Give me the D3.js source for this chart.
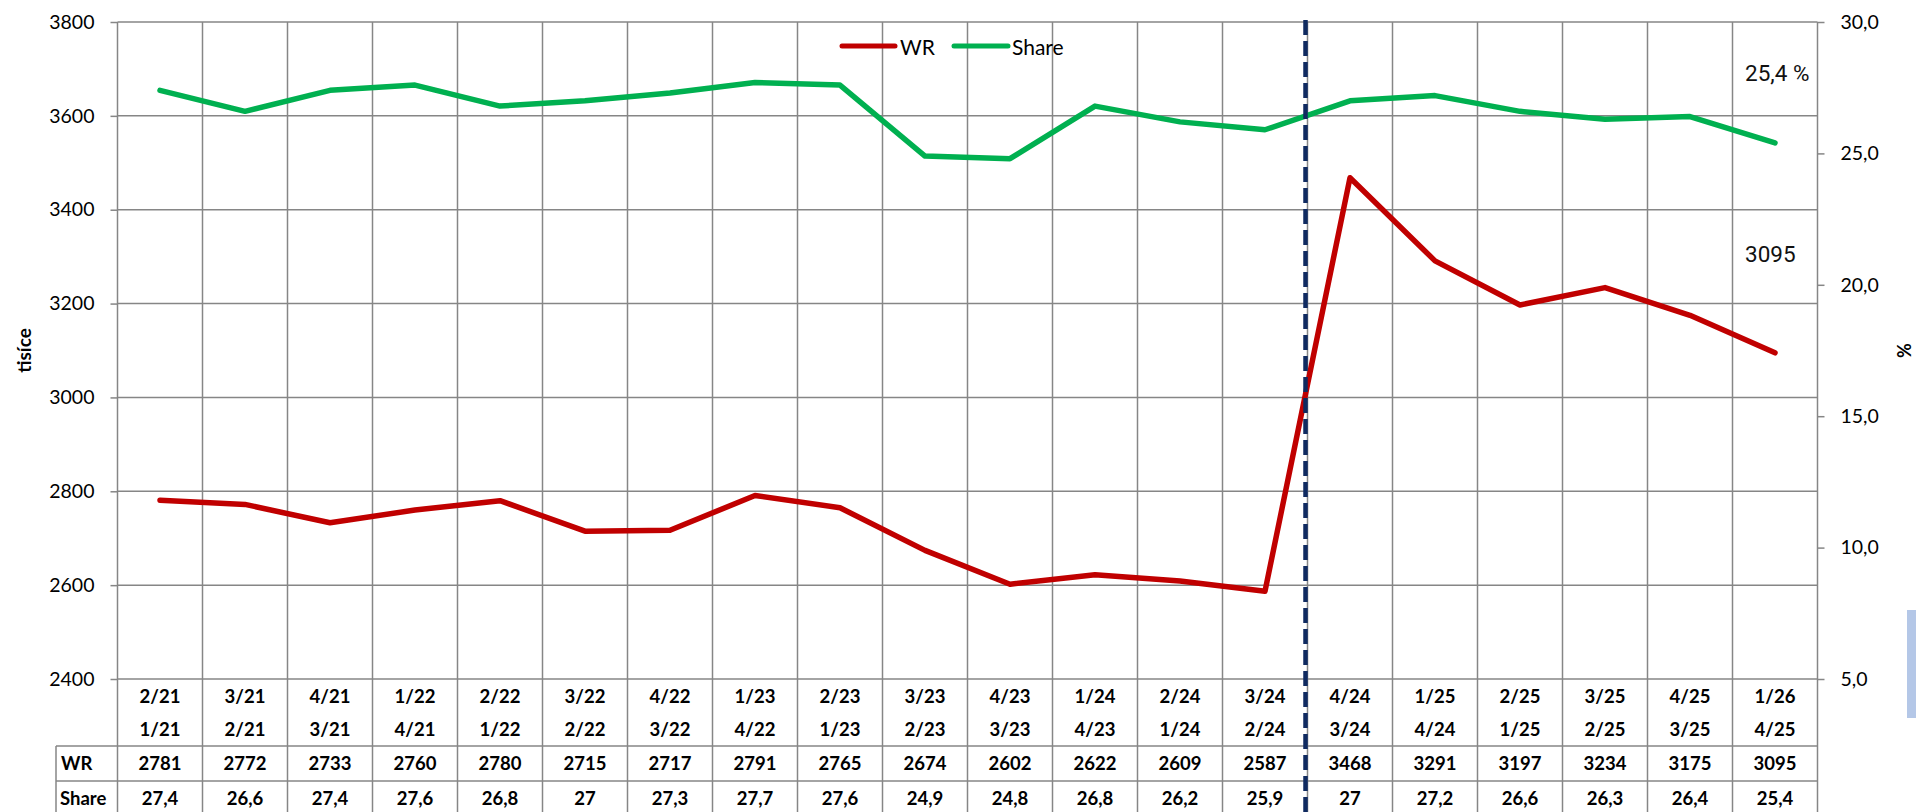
<!DOCTYPE html>
<html>
<head>
<meta charset="utf-8">
<script src="https://cdn.jsdelivr.net/npm/d3@7"></script>
<style>
  html, body { margin: 0; padding: 0; background: #fff; }
  svg { display: block; font-family: Lato, "Open Sans", sans-serif; }
</style>
</head>
<body>
<svg id="chart" width="1916" height="812"></svg>
<script>
// ---- DATA ----
const periodTop    = ["2/21","3/21","4/21","1/22","2/22","3/22","4/22","1/23","2/23","3/23","4/23","1/24","2/24","3/24","4/24","1/25","2/25","3/25","4/25","1/26"];
const periodBottom = ["1/21","2/21","3/21","4/21","1/22","2/22","3/22","4/22","1/23","2/23","3/23","4/23","1/24","2/24","3/24","4/24","1/25","2/25","3/25","4/25"];
const wrValues     = [2781,2772,2733,2760,2780,2715,2717,2791,2765,2674,2602,2622,2609,2587,3468,3291,3197,3234,3175,3095];
const shareValues  = [27.4,26.6,27.4,27.6,26.8,27,27.3,27.7,27.6,24.9,24.8,26.8,26.2,25.9,27,27.2,26.6,26.3,26.4,25.4];
const leftTicks    = [2400,2600,2800,3000,3200,3400,3600,3800];
const rightTicks   = [5,10,15,20,25,30];
const seriesNames  = ["WR","Share"];
const breakIndex   = 14; // dashed separator before "4/24"
const lastShareLabel = "25,4 %";
const lastWrLabel    = "3095";

// ---- LAYOUT ----
const svg = d3.select("#chart");
const L = 117.5, R = 1817.5, T = 22, B = 679;
const gridColor = "#868686";
const red = "#c00000", green = "#00b050";

const x = d3.scaleBand().domain(periodTop).range([L, R]).padding(0);
const cx = d => x(d) + x.bandwidth() / 2;
const yL = d3.scaleLinear().domain([2400, 3800]).range([B, T]);
const yR = d3.scaleLinear().domain([5, 30]).range([B, T]);
const fmtComma = d => d3.format(".1f")(d).replace(".", ",");

// Table row geometry
const rowTop1Y = 696, rowTop2Y = 729, rowWrY = 763, rowShareY = 798;
const tableLine1 = 746, tableLine2 = 781, tableLeft = 56, bottom = 812;

// ---- GRIDLINES ----
const g = svg.append("g");
g.selectAll("line.hg").data(leftTicks).enter().append("line")
  .attr("x1", L).attr("x2", R)
  .attr("y1", d => yL(d)).attr("y2", d => yL(d))
  .attr("stroke", gridColor).attr("stroke-width", 1.5);
const boundaries = periodTop.map(d => x(d)).concat([R]);
g.selectAll("line.vg").data(boundaries).enter().append("line")
  .attr("x1", d => d).attr("x2", d => d)
  .attr("y1", T).attr("y2", bottom)
  .attr("stroke", gridColor).attr("stroke-width", 1.5);

[tableLine1, tableLine2].forEach(yy => {
  g.append("line").attr("x1", tableLeft).attr("x2", R).attr("y1", yy).attr("y2", yy)
    .attr("stroke", gridColor).attr("stroke-width", 1.5);
});
g.append("line").attr("x1", tableLeft).attr("x2", tableLeft).attr("y1", tableLine1).attr("y2", bottom)
  .attr("stroke", gridColor).attr("stroke-width", 1.5);

// ---- AXES ----
const leftAxis = d3.axisLeft(yL).tickValues(leftTicks).tickSize(7).tickPadding(16).tickFormat(d3.format("d"));
const gl = svg.append("g").attr("transform", `translate(${L},0)`).call(leftAxis);
gl.select(".domain").remove();
gl.selectAll(".tick line").attr("stroke", gridColor).attr("stroke-width", 1.5);
gl.selectAll(".tick text").attr("font-family", "Lato").attr("font-size", 19.5).attr("fill", "#000");

const rightAxis = d3.axisRight(yR).tickValues(rightTicks).tickSize(7).tickPadding(16).tickFormat(fmtComma);
const gr = svg.append("g").attr("transform", `translate(${R},0)`).call(rightAxis);
gr.select(".domain").remove();
gr.selectAll(".tick line").attr("stroke", gridColor).attr("stroke-width", 1.5);
gr.selectAll(".tick text").attr("font-family", "Lato").attr("font-size", 19.5).attr("fill", "#000");

svg.append("text").attr("transform", `translate(31,${(T+B)/2}) rotate(-90)`)
  .attr("text-anchor", "middle").attr("font-weight", "bold").attr("font-size", 19).text("tisíce");
svg.append("text").attr("transform", `translate(1911,${(T+B)/2}) rotate(-90)`)
  .attr("text-anchor", "middle").attr("font-weight", "bold").attr("font-size", 18).text("%");

// ---- TABLE TEXT ----
const tbl = svg.append("g").attr("font-weight", "bold").attr("font-size", 18.5).attr("text-anchor", "middle");
const rows = [
  {vals: periodTop, y: rowTop1Y},
  {vals: periodBottom, y: rowTop2Y},
  {vals: wrValues.map(String), y: rowWrY},
  {vals: shareValues.map(v => String(v).replace(".", ",")), y: rowShareY}
];
rows.forEach(r => {
  tbl.selectAll(null).data(r.vals).enter().append("text")
    .attr("x", (d, i) => cx(periodTop[i]))
    .attr("y", r.y).attr("dominant-baseline", "central").text(d => d);
});
svg.append("text").attr("x", 61).attr("y", rowWrY).attr("dominant-baseline", "central")
  .attr("font-weight", "bold").attr("font-size", 18.5).text(seriesNames[0]);
svg.append("text").attr("x", 60).attr("y", rowShareY).attr("dominant-baseline", "central")
  .attr("font-weight", "bold").attr("font-size", 18.5).text(seriesNames[1]);

// ---- LINES ----
const lineWR = d3.line().x((d, i) => cx(periodTop[i])).y(d => yL(d));
const lineSh = d3.line().x((d, i) => cx(periodTop[i])).y(d => yR(d));
svg.append("path").attr("d", lineSh(shareValues)).attr("fill", "none")
  .attr("stroke", green).attr("stroke-width", 5.5).attr("stroke-linecap", "round").attr("stroke-linejoin", "round");
svg.append("path").attr("d", lineWR(wrValues)).attr("fill", "none")
  .attr("stroke", red).attr("stroke-width", 5.5).attr("stroke-linecap", "round").attr("stroke-linejoin", "round");

// ---- DASHED SEPARATOR ----
const sepX = x(periodTop[breakIndex]) - 2;
svg.append("line").attr("x1", sepX).attr("x2", sepX).attr("y1", 20).attr("y2", bottom)
  .attr("stroke", "#0f2a60").attr("stroke-width", 4.5).attr("stroke-dasharray", "15,6");

// ---- LEGEND ----
const leg = svg.append("g");
const legendItems = [
  {name: seriesNames[0], color: red, x1: 842, x2: 895, tx: 900},
  {name: seriesNames[1], color: green, x1: 954, x2: 1008, tx: 1012}
];
legendItems.forEach(it => {
  leg.append("line").attr("x1", it.x1).attr("x2", it.x2).attr("y1", 46).attr("y2", 46)
    .attr("stroke", it.color).attr("stroke-width", 5).attr("stroke-linecap", "round");
  leg.append("text").attr("x", it.tx).attr("y", 46).attr("dominant-baseline", "central")
    .attr("font-size", 21).text(it.name);
});

// ---- ANNOTATIONS ----
svg.append("text").attr("x", 1745).attr("y", 73).attr("dominant-baseline", "central")
  .attr("font-family", "Roboto").attr("font-weight", 400).attr("font-size", 22.5).attr("fill", "#111").text(lastShareLabel);
svg.append("text").attr("x", 1745).attr("y", 254).attr("dominant-baseline", "central")
  .attr("font-family", "Roboto").attr("font-weight", 400).attr("font-size", 22.5).attr("fill", "#111").text(lastWrLabel);

// ---- side decoration ----
svg.append("rect").attr("x", 1907).attr("y", 610).attr("width", 9).attr("height", 108).attr("fill", "#b4c7e7");
</script>
</body>
</html>
